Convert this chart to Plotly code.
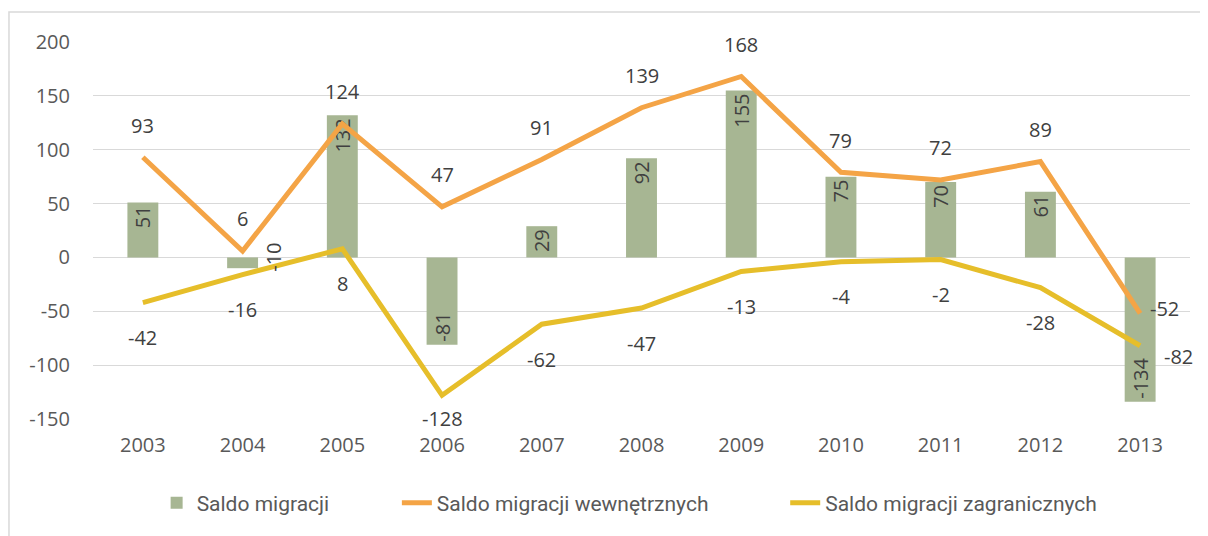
import plotly.graph_objects as go

years = ["2003", "2004", "2005", "2006", "2007", "2008", "2009", "2010", "2011", "2012", "2013"]
saldo = [51, -10, 132, -81, 29, 92, 155, 75, 70, 61, -134]
wewn = [93, 6, 124, 47, 91, 139, 168, 79, 72, 89, -52]
zagr = [-42, -16, 8, -128, -62, -47, -13, -4, -2, -28, -82]
y_ticks = [-150, -100, -50, 0, 50, 100, 150, 200]

GREEN = "#A7B693"
ORANGE = "#F4A446"
YELLOW = "#E6BE2A"
TXT = "#404040"
AX = "#595959"
FONT = "Open Sans"
FS = 20

fig = go.Figure()

bar_text = [str(v) if abs(v) > 20 else "" for v in saldo]
fig.add_trace(go.Bar(
    x=years, y=saldo, name="Saldo migracji", legend="legend",
    marker=dict(color=GREEN, line=dict(width=0)),
    text=bar_text, textposition="inside", insidetextanchor="end",
    textangle=-90, insidetextfont=dict(family=FONT, size=FS, color=TXT),
    constraintext="none", cliponaxis=False,
))
fig.add_trace(go.Scatter(
    x=years, y=wewn, name="Saldo migracji wewnętrznych", mode="lines", legend="legend2",
    line=dict(color=ORANGE, width=5),
))
fig.add_trace(go.Scatter(
    x=years, y=zagr, name="Saldo migracji zagranicznych", mode="lines", legend="legend3",
    line=dict(color=YELLOW, width=5),
))

lab_font = dict(family=FONT, size=FS, color=TXT)
annotations = []
last = len(years) - 1
# on a category axis annotation x is the category's serial index
for i, v in enumerate(wewn):
    if i == last:
        annotations.append(dict(x=i, y=v, text=str(v), showarrow=False, xshift=24, yshift=5, font=lab_font))
    else:
        annotations.append(dict(x=i, y=v, text=str(v), showarrow=False, yshift=32, font=lab_font))
for i, v in enumerate(zagr):
    if i == last:
        annotations.append(dict(x=i, y=v, text=str(v), showarrow=False, xshift=38, yshift=-11, font=lab_font))
    elif v == min(zagr):
        annotations.append(dict(x=i, y=v, text=str(v), showarrow=False, yshift=-23, font=lab_font))
    else:
        annotations.append(dict(x=i, y=v, text=str(v), showarrow=False, yshift=-35, font=lab_font))
for i, v in enumerate(saldo):
    if abs(v) <= 20:
        annotations.append(dict(x=i, y=v, text=str(v), showarrow=False, xshift=31, yshift=11,
                                textangle=-90, font=lab_font))

leg_font = dict(family="Roboto, sans-serif", size=21, color=AX)
def leg(x):
    return dict(orientation="h", x=x, xanchor="left", y=-0.223, yanchor="middle",
                font=leg_font, bgcolor="rgba(0,0,0,0)")

fig.update_layout(
    width=1208, height=536,
    margin=dict(l=85, r=26, t=34, b=125),
    paper_bgcolor="white", plot_bgcolor="white",
    bargap=0.69,
    showlegend=True,
    legend=leg(0.058), legend2=leg(0.277), legend3=leg(0.631),
    annotations=annotations,
    shapes=[dict(type="rect", xref="paper", yref="paper", x0=-0.0766, x1=1.03, y0=-0.36, y1=1.0796,
                 line=dict(color="#D9D9D9", width=1.5), fillcolor="rgba(0,0,0,0)", layer="below")],
)
fig.update_xaxes(type="category", range=[-0.5, len(years) - 0.5], showgrid=False, showline=False,
                 zeroline=False, tickfont=dict(family=FONT, size=FS, color=AX), ticks="", ticklabelstandoff=12)
fig.update_yaxes(range=[-150, 200], tickvals=y_ticks, ticktext=[str(v) for v in y_ticks],
                 showgrid=True, gridcolor="#D9D9D9", gridwidth=1.3,
                 zeroline=True, zerolinecolor="#D9D9D9", zerolinewidth=1.3, showline=False,
                 tickfont=dict(family=FONT, size=FS, color=AX), ticks="", ticklabelstandoff=22)

fig.write_html("out.html")
